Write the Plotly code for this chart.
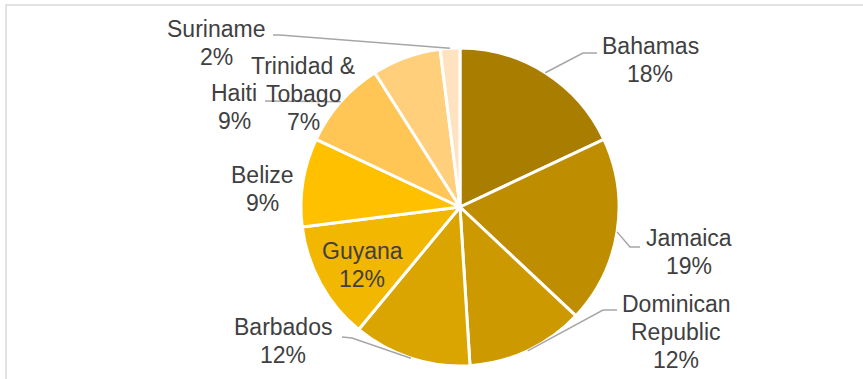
import math
import plotly.graph_objects as go

W, H = 863, 379

# Share of total by country, clockwise from 12 o'clock
countries = ["Bahamas", "Jamaica", "Dominican Republic", "Barbados", "Guyana",
             "Belize", "Haiti", "Trinidad & Tobago", "Suriname"]
shares = [18, 19, 12, 12, 12, 9, 9, 7, 2]
label_lines = [["Bahamas"], ["Jamaica"], ["Dominican", "Republic"], ["Barbados"],
               ["Guyana"], ["Belize"], ["Haiti"], ["Trinidad &", "Tobago"], ["Suriname"]]
colors = ["#A97D00", "#BE8D00", "#CC9A00", "#DAA500", "#F2B700",
          "#FFC000", "#FFC655", "#FFCF7C", "#FFE3C0"]

# Pie geometry (pixels)
CX, CY, R = 460, 207, 159

# Label block centres (pixels): x, y of first line
label_pos = [(650, 46), (689, 238), (676, 304), (283, 327), (362, 251),
             (262, 175), (234, 93), (303, 66), (216, 29)]
LINE_H = 28

# Leader line elbows (pixel points from label side); None = no leader
leaders = [[(597, 53), (583, 53)],
           [(640, 247), (630, 247)],
           [(617, 310), (603, 310)],
           [(342, 337), (352, 338)],
           None,
           None,
           [(265, 101)],
           None,
           [(273, 35), (280, 35)]]


def px(x):
    return x / W


def py(y):
    return 1 - y / H


fig = go.Figure(go.Pie(
    labels=countries,
    values=shares,
    sort=False,
    direction="clockwise",
    rotation=0,
    marker=dict(colors=colors, line=dict(color="white", width=3)),
    textinfo="none",
    hoverinfo="label+percent",
    domain=dict(x=[px(CX - R), px(CX + R)], y=[py(CY + R), py(CY - R)]),
    showlegend=False,
))

annotations = []
shapes = []
total = sum(shares)
cum = 0
for name_lines, v, (lx, ly), lead in zip(label_lines, shares, label_pos, leaders):
    pct = round(100 * v / total)
    lines = name_lines + [f"{pct}%"]
    for i, t in enumerate(lines):
        annotations.append(dict(
            x=px(lx), y=py(ly + i * LINE_H), xref="paper", yref="paper",
            text=t, showarrow=False, xanchor="center", yanchor="middle",
            font=dict(family="Liberation Sans, Arial, sans-serif", size=23, color="#404040"),
        ))
    mid = (cum + v / 2) / total * 2 * math.pi
    cum += v
    if lead:
        ex = CX + R * math.sin(mid)
        ey = CY - R * math.cos(mid)
        pts = lead + [(ex, ey)]
        path = "M " + " L ".join(f"{px(a):.5f},{py(b):.5f}" for a, b in pts)
        shapes.append(dict(type="path", xref="paper", yref="paper", path=path,
                           line=dict(color="#A6A6A6", width=1.5)))

# Chart frame
shapes.append(dict(type="rect", xref="paper", yref="paper",
                   x0=px(6), x1=px(W + 10), y0=py(H + 10), y1=py(5),
                   line=dict(color="#D9D9D9", width=1.5), layer="below"))

fig.update_layout(
    width=W, height=H,
    margin=dict(l=0, r=0, t=0, b=0),
    paper_bgcolor="white", plot_bgcolor="white",
    annotations=annotations,
    shapes=shapes,
)

fig.write_html("out.html")
